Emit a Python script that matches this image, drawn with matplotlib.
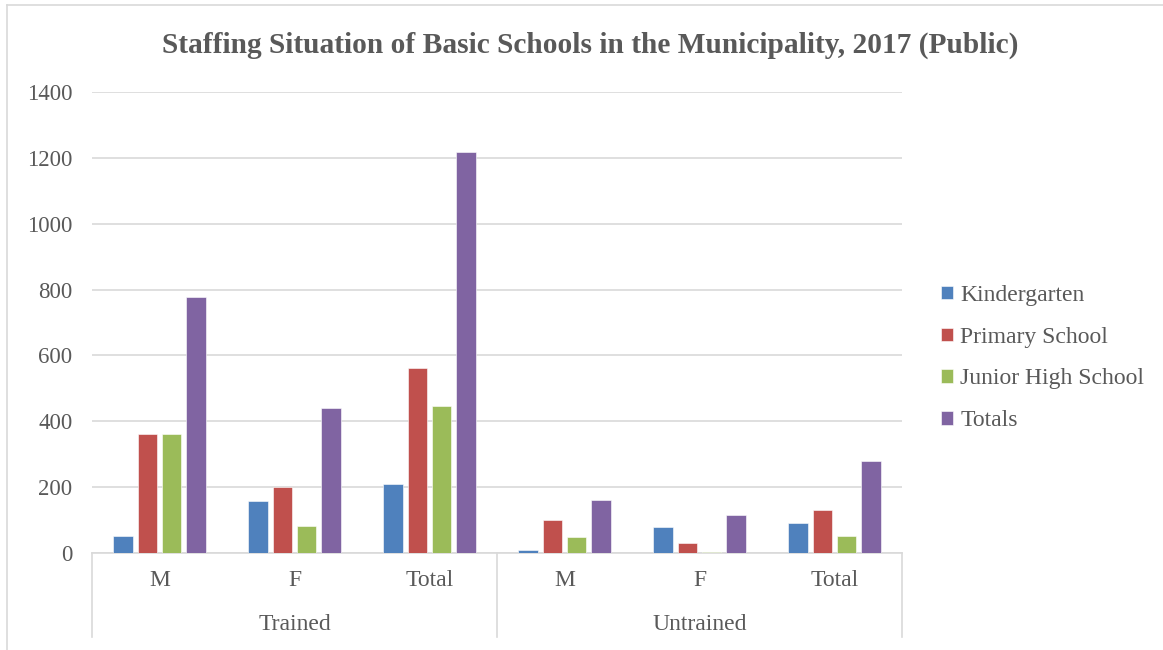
import numpy as np
import matplotlib.pyplot as plt
from matplotlib.lines import Line2D

plt.rcParams['font.family'] = ['Liberation Serif', 'DejaVu Serif']

# Data
groups = ['Trained', 'Untrained']
subcats = ['M', 'F', 'Total', 'M', 'F', 'Total']
series = ['Kindergarten', 'Primary School', 'Junior High School', 'Totals']
kindergarten = [52, 158, 210, 9, 79, 90]
primary = [362, 199, 561, 100, 31, 132]
junior_high = [362, 83, 445, 49, 3, 52]
totals = [776, 440, 1219, 160, 115, 278]
colors = ['#4F81BD', '#C0504D', '#9BBB59', '#8064A2']

values = [kindergarten, primary, junior_high, totals]
text_col = '#595959'
grid_col = '#D9D9D9'

W, H = 1163, 650
fig = plt.figure(figsize=(W / 100, H / 100), dpi=100)
ax = fig.add_axes([92 / W, 1 - 553 / H, 810 / W, 461 / H])

x = np.arange(len(subcats))
step = 0.18
width = 0.142
for i, (vals, name, c) in enumerate(zip(values, series, colors)):
    ax.bar(x + (i - 1.5) * step, vals, width, color=c, label=name,
           edgecolor='white', linewidth=0.4, zorder=3)

ax.set_xlim(-0.5, len(subcats) - 0.5)
ax.set_ylim(0, 1400)
ax.set_yticks(range(0, 1401, 200))
ax.yaxis.grid(True, color=grid_col, linewidth=1.2, zorder=0)
ax.tick_params(axis='y', length=0, labelsize=16.5, labelcolor=text_col, pad=14)
ax.set_xticks([])
for s in ['top', 'right', 'left']:
    ax.spines[s].set_visible(False)
ax.spines['bottom'].set_color(grid_col)
ax.spines['bottom'].set_linewidth(1.2)

# two-level category axis
xt = ax.get_xaxis_transform()
for xi, lab in zip(x, subcats):
    ax.text(xi, -28 / 461, lab, transform=xt, ha='center', va='center',
            fontsize=17, color=text_col)
for j, g in enumerate(groups):
    ax.text(j * 3 + 1, -71 / 461, g, transform=xt, ha='center', va='center',
            fontsize=17, color=text_col)
for xs in [-0.5, 2.5, 5.5]:
    ax.plot([xs, xs], [0, -84 / 461], transform=xt, color=grid_col,
            linewidth=1.2, clip_on=False)

fig.text(590 / W, 1 - 45 / H,
         'Staffing Situation of Basic Schools in the Municipality, 2017 (Public)',
         ha='center', va='center', fontsize=21.2, fontweight='bold', color=text_col)

ax.legend(loc='center left', bbox_to_anchor=(920 / W, 1 - 358 / H),
          bbox_transform=fig.transFigure, frameon=False, fontsize=17,
          handlelength=0.5, handleheight=0.5, handletextpad=0.3,
          labelspacing=0.88, labelcolor=text_col)

# chart frame (top and left edges visible)
fig.add_artist(Line2D([7 / W, 7 / W], [0, 1 - 5 / H], color=grid_col, linewidth=1.2))
fig.add_artist(Line2D([7 / W, 1], [1 - 5 / H, 1 - 5 / H], color=grid_col, linewidth=1.2))

fig.savefig('out.png', dpi=100)
